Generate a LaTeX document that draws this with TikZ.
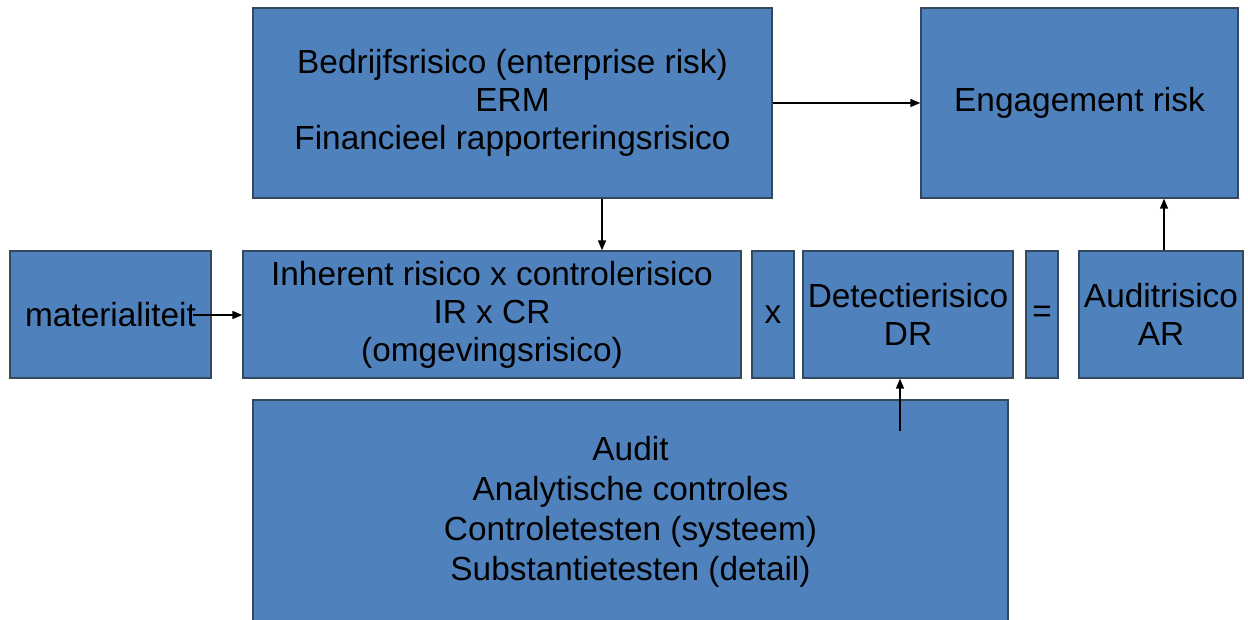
\documentclass[tikz,border=0pt]{standalone}
\usepackage{fontspec}
\setmainfont{Liberation Sans}
\usetikzlibrary{arrows.meta,calc}
\definecolor{boxfill}{HTML}{4F81BD}
\definecolor{boxline}{HTML}{34495E}
\begin{document}
\begin{tikzpicture}[x=1pt,y=-1pt,
  box/.style={draw=boxline,fill=boxfill,line width=1.3pt,inner sep=0pt,align=center,
    font=\fontsize{33.4}{38}\selectfont,text=black},
  arr/.style={draw=black,line width=1.4pt,-{Triangle[length=10pt,width=8pt]}}]
\useasboundingbox (0,0) rectangle (1248,620);
\begin{scope}
\clip (0,0) rectangle (1248,620);
\node[box,minimum width=519pt,minimum height=190pt] (top) at (512.5,103) {Bedrijfsrisico (enterprise risk)\\ERM\\Financieel rapporteringsrisico};
\node[box,minimum width=317pt,minimum height=190pt] (eng) at (1079.5,103) {Engagement risk};
\node[box,minimum width=201pt,minimum height=127pt] (mat) at (110.5,314.5) {materialiteit};
\node[box,minimum width=498pt,minimum height=127pt] (inh) at (492,314.5) {Inherent risico x controlerisico\\IR x CR\\(omgevingsrisico)};
\node[box,minimum width=42pt,minimum height=127pt] (xb) at (773,314.5) {x};
\node[box,minimum width=210pt,minimum height=127pt] (det) at (908,314.5) {Detectierisico\\DR};
\node[box,minimum width=32pt,minimum height=127pt] (eq) at (1042,314.5) {=};
\node[box,minimum width=164pt,minimum height=127pt] (aud) at (1161,314.5) {Auditrisico\\AR};
\node[box,minimum width=755pt,minimum height=224pt,font=\fontsize{33.4}{40}\selectfont] (audit) at (630.5,512) {Audit\\Analytische controles\\Controletesten (systeem)\\Substantietesten (detail)};
\end{scope}
\coordinate (c1) at (602,0);
\coordinate (m0) at (193,315);
\coordinate (c2) at (1164,0);
\coordinate (a0) at (900,431);
\draw[arr] (top) -- (eng);
\draw[arr] (c1 |- top.south) -- (c1 |- inh.north);
\draw[arr] (m0) -- (m0 -| inh.west);
\draw[arr] (c2 |- aud.north) -- (c2 |- eng.south);
\draw[arr] (a0) -- (a0 |- det.south);
\end{tikzpicture}
\end{document}
